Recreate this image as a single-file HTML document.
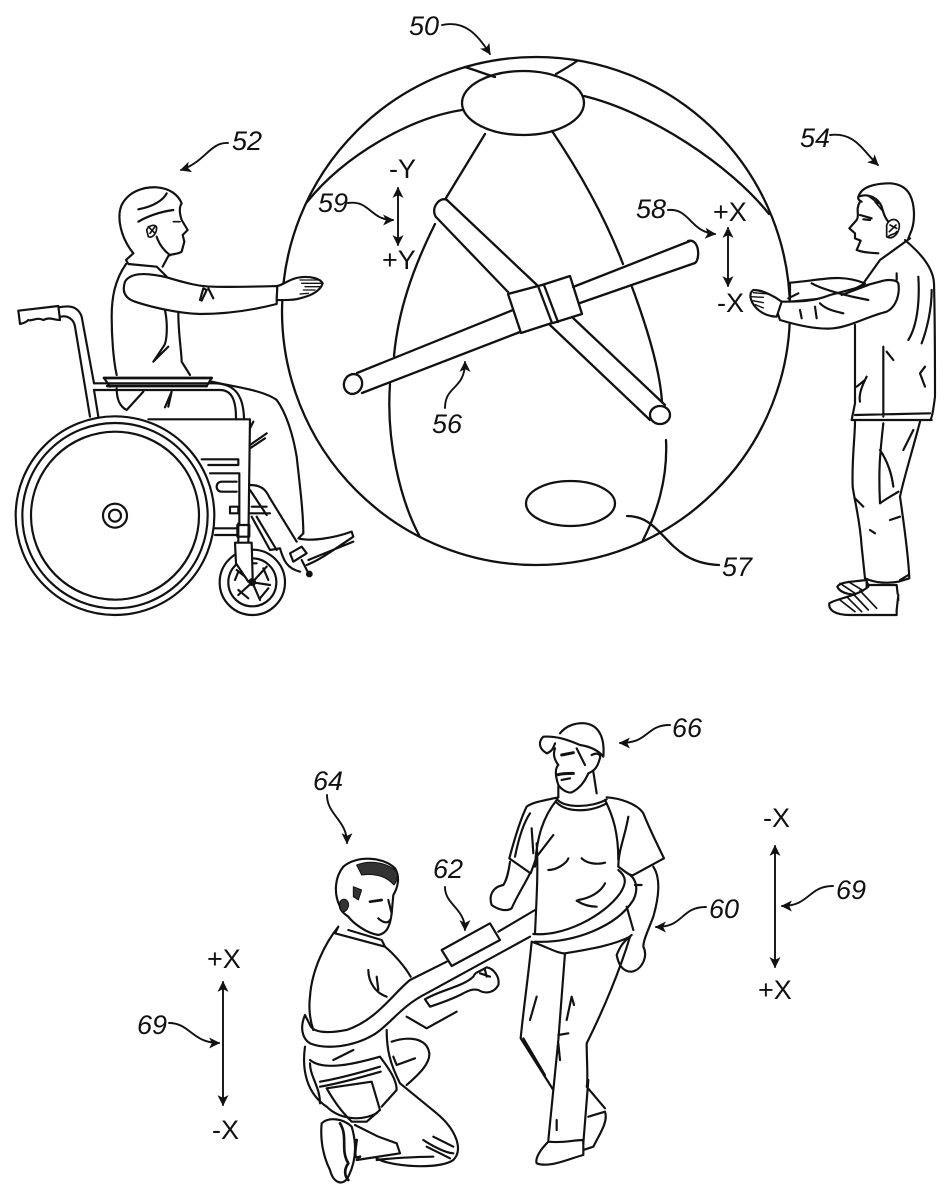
<!DOCTYPE html>
<html><head><meta charset="utf-8"><style>
html,body{margin:0;padding:0;background:#fff}
svg{display:block}
text{font-family:"Liberation Sans",sans-serif;font-size:27px;fill:#111}
.n{font-style:italic}
path,ellipse,circle,line{stroke-linecap:round;stroke-linejoin:round}
</style></head><body>
<svg width="950" height="1200" viewBox="0 0 950 1200" xmlns="http://www.w3.org/2000/svg">
<defs>
<marker id="a" viewBox="0 0 10 10" refX="9" refY="5" markerUnits="userSpaceOnUse" markerWidth="14" markerHeight="11" orient="auto-start-reverse"><path d="M0 0L10 5L0 10L2.5 5Z" fill="#111"/></marker>
</defs>
<rect width="950" height="1200" fill="#fff"/>

<!-- sphere -->
<g fill="none" stroke="#111" stroke-width="2.3">
<circle cx="536" cy="311" r="254"/>
<ellipse cx="523" cy="103" rx="61" ry="32"/>
<ellipse cx="570.5" cy="503.5" rx="44.5" ry="22.5"/>
<path d="M465 67C475 70 485 74 495 77M577 61C570 66 563 70 556 74"/>
<path d="M462 110C410 118 345 155 307 202"/>
<path d="M584 96C650 112 730 165 769 214"/>
<path d="M485 134L446 198M435 224C412 270 398 312 394 356M390 384C386 440 400 500 420 537"/>
<path d="M552 131C585 180 608 225 623 264M632 287C648 330 660 370 662 402M666 440C668 480 656 515 643 540"/>
<path d="M627 516C665 516 665 563 719 565"/>
<!-- bars -->
<path d="M357 373L513 310M362 393L520 332M573 287L690 241M580 303L695 263"/>
<path d="M688 241C700 238 700 260 695 263"/>
<ellipse cx="353" cy="384" rx="9" ry="10" transform="rotate(20 353 384)"/>
<path d="M447 200L538 286M436 217L508 292M550 325L650 420M572 317L665 405"/>
<path d="M447 200C440 196 430 208 436 217"/>
<ellipse cx="660" cy="415" rx="10" ry="9"/>
<path d="M508 294L538 286L552 323L521 333Z M542 285L570 276L582 314L553 323M538 286L542 285M544 285L558 322"/>
</g>

<!-- arrows and leaders -->
<g fill="none" stroke="#111" stroke-width="1.9">
<path d="M442 25C465 20 478 35 490 54" marker-end="url(#a)"/>
<path d="M228 143C210 142 205 162 181 170" marker-end="url(#a)"/>
<path d="M830 135C855 132 862 150 878 165" marker-end="url(#a)"/>
<path d="M348 203C370 200 370 220 393 220" marker-end="url(#a)"/>
<path d="M668 210C690 208 690 232 715 234" marker-end="url(#a)"/>
<path d="M445 408C445 385 465 390 465 362" marker-end="url(#a)"/>
<path d="M398 188L398 245" marker-start="url(#a)" marker-end="url(#a)"/>
<path d="M728 228L728 286" marker-start="url(#a)" marker-end="url(#a)"/>
<path d="M775 846L775 967" marker-start="url(#a)" marker-end="url(#a)"/>
<path d="M223 982L223 1105" marker-start="url(#a)" marker-end="url(#a)"/>
<path d="M833 886C808 886 810 906 782 906" marker-end="url(#a)"/>
<path d="M706 907C680 907 685 927 656 927" marker-end="url(#a)"/>
<path d="M169 1023C190 1023 192 1043 219 1043" marker-end="url(#a)"/>
<path d="M670 725C645 725 650 743 620 743" marker-end="url(#a)"/>
<path d="M327 795C327 815 347 820 347 843" marker-end="url(#a)"/>
<path d="M445 887C445 905 465 908 465 930" marker-end="url(#a)"/>
</g>

<!-- labels -->
<text class="n" x="409" y="35">50</text>
<text class="n" x="232" y="150">52</text>
<text class="n" x="800" y="147">54</text>
<text class="n" x="318" y="212">59</text>
<text class="n" x="636" y="218">58</text>
<text class="n" x="432" y="433">56</text>
<text class="n" x="722" y="576">57</text>
<text class="n" x="672" y="737">66</text>
<text class="n" x="313" y="790">64</text>
<text class="n" x="433" y="878">62</text>
<text class="n" x="709" y="918">60</text>
<text class="n" x="836" y="899">69</text>
<text class="n" x="137" y="1034">69</text>
<text x="389" y="178">-Y</text>
<text x="382" y="269">+Y</text>
<text x="713" y="221">+X</text>
<text x="717" y="312">-X</text>
<text x="763" y="827">-X</text>
<text x="758" y="999">+X</text>
<text x="207" y="968">+X</text>
<text x="212" y="1139">-X</text>

<!-- wheelchair person -->
<g transform="translate(0 170) scale(.33333)" fill="none" stroke="#111" stroke-width="6.5">
<path fill="#fff" d="M500 322C430 305 390 310 375 335C365 365 375 385 405 395C450 410 530 430 600 432C680 432 760 420 830 402L832 348C760 350 700 352 640 350C600 350 560 340 500 322Z"/>
<path fill="#fff" d="M832 348C850 345 870 325 900 322C930 318 960 325 968 340C960 365 930 378 900 385C880 392 850 390 830 390Z"/>
<path stroke-width="4" d="M900 330L955 330M905 340L965 340M915 350L960 350M910 360L945 360M900 372L925 370"/>
<path d="M400 250C360 200 350 140 365 105C385 65 430 50 470 52C510 55 535 75 545 100C535 115 540 135 545 150L563 180L548 195L553 215L545 245C530 255 515 250 505 258L488 290"/>
<path d="M400 250L378 270L385 282L470 290L500 320M415 118C460 110 490 90 500 70M415 155C440 140 480 125 520 120M470 200C478 225 495 245 510 255M378 282C345 330 335 380 335 440C335 500 340 570 350 615"/>
<path stroke-width="5" d="M440 180C445 165 470 160 470 175C468 195 455 205 445 200ZM445 170L465 190M450 190L465 170M520 155L540 155"/>
<path d="M495 420C505 470 500 520 490 530L460 575L505 530M535 430C535 490 545 550 545 575L570 615M600 390L610 355L620 360L605 392M625 355L640 385"/>
<path stroke-width="8" d="M312 624L635 624M322 648L620 648"/>
<path d="M312 624L330 650M635 624L620 648M350 655C350 690 360 710 380 720M380 720L430 665M495 712L515 665L505 710"/>
<path d="M635 635C700 650 790 660 830 690C860 730 880 800 890 860C900 950 910 1030 910 1090"/>
<path d="M55 422L175 408L180 450C160 450 150 440 130 450C110 440 95 455 85 450C75 460 65 460 60 462Z"/>
<path d="M178 412C210 405 235 410 245 440L282 640M182 440C205 435 222 450 225 470L270 740M295 740L282 660"/>
<path d="M282 640L640 640C700 640 730 670 732 745M282 660L660 660C695 660 708 690 708 745"/>
<circle cx="345" cy="1037" r="298"/><circle cx="345" cy="1037" r="278"/><circle cx="345" cy="1037" r="252"/>
<circle cx="345" cy="1037" r="36"/><circle cx="345" cy="1037" r="18"/>
<path d="M445 748L750 748L745 1120M715 1120L715 1060M605 868L715 868L715 885L625 885M630 910L718 910L718 1060M645 1075L710 1075M645 1095L710 1095M690 1010L715 1010L715 1030L690 1030Z"/>
<path d="M665 935L710 935M665 965L710 965M665 935C645 935 645 965 665 965"/>
<path d="M750 775L760 755M750 825L800 790M750 835L795 805"/>
<path d="M750 945C790 945 800 965 810 985L890 1115M755 1010L800 1010M750 1030L810 1030M750 960L800 1035M755 1040L810 1140L840 1135C850 1170 860 1195 900 1205M770 1040L830 1140"/>
<path d="M910 1090L895 1105C930 1115 1000 1105 1055 1085L1060 1100C1000 1140 960 1170 920 1185M925 1170L1060 1115M870 1150L905 1130L920 1150L880 1175ZM905 1170L928 1215"/>
<circle cx="928" cy="1212" r="7" fill="#111"/>
<circle cx="757" cy="1237" r="98" fill="#fff"/><circle cx="757" cy="1237" r="72"/><circle cx="757" cy="1237" r="8" fill="#111"/>
<path d="M757 1237L710 1200M757 1237L800 1190M757 1237L810 1245M757 1237L780 1290M757 1237L715 1275M730 1180L770 1180M790 1195L805 1230M805 1255L780 1285M745 1285L715 1260M705 1230L715 1205"/>
<path fill="#fff" d="M705 1118L755 1118L758 1225L745 1235L708 1180Z"/>
<path d="M712 1065L748 1065L748 1100L712 1100Z"/>
</g>

<!-- standing person right -->
<g transform="translate(740 170) scale(.33333)" fill="none" stroke="#111" stroke-width="6.5">
<path fill="#fff" d="M375 340C300 310 250 330 150 338L150 395L300 380Z"/>
<path fill="#fff" d="M475 340C480 370 470 410 440 425C380 440 330 470 280 475C230 480 170 465 120 450L110 420L125 395C180 395 220 395 270 375C330 360 400 340 430 332C450 328 470 330 475 340Z"/>
<path fill="#fff" d="M125 395C105 380 70 360 40 360C25 370 30 395 50 415C70 435 95 440 110 440Z"/>
<path stroke-width="4" d="M40 368L85 372M32 380L70 382M38 392L70 398M46 404L70 414"/>
<path d="M360 95C345 120 360 135 350 150L328 175L345 190L345 205L362 212L350 240C370 248 390 248 415 250M360 70C375 45 420 40 450 40C480 42 500 55 510 75C525 105 525 150 515 180L505 205"/>
<path d="M360 70C350 85 355 90 365 95M360 135L395 145M370 148L390 150M355 80C385 68 415 85 425 110C430 130 435 145 445 155"/>
<path stroke-width="5" d="M440 165C450 140 480 145 478 170C475 195 455 210 440 200ZM450 165L470 175M448 185L468 165M445 200C455 190 465 195 470 185M385 78L415 100M405 95L430 125"/>
<path d="M510 205L420 270L370 340M495 210L515 228C550 260 580 300 582 340C585 450 585 600 585 680C580 720 575 750 570 750M335 750L575 750M345 735L570 730M345 465L345 700L335 750M470 310L470 330M535 320C540 400 530 470 505 510M575 360C575 420 560 480 545 520M440 545L460 570M555 590L540 610L555 650M380 620C370 640 355 670 360 695M350 650L375 630M145 385L175 370M180 420L185 445M225 410L230 445M240 400C260 420 290 425 310 430M215 340C250 360 330 380 385 390M305 375L385 345M430 530C430 600 430 680 430 740"/>
<path d="M345 755C345 800 335 870 338 950C345 1000 360 1050 365 1130L375 1225C410 1240 440 1240 475 1235L508 1225C505 1150 490 1050 480 980C490 930 515 850 540 755M430 760C420 850 415 900 420 1000M420 1000C440 985 460 975 475 965M420 840C440 870 455 910 460 950M345 985L370 1010M390 1080L405 1090M520 780L490 840M480 1230L505 1215M450 1050L480 1040"/>
<path d="M375 1225L385 1245L470 1245L475 1290"/>
<path fill="#fff" d="M380 1230C340 1235 300 1235 292 1250C300 1270 340 1280 380 1270Z"/>
<path fill="#fff" d="M385 1250C350 1280 290 1285 268 1300C265 1320 285 1335 330 1335L470 1335L470 1320L475 1275"/>
<path stroke-width="5" d="M300 1290L345 1325M320 1280L365 1325M340 1272L385 1320M360 1262L410 1315M300 1240L345 1270M325 1235L370 1262"/>
</g>

<!-- bottom figures -->
<g transform="translate(290 710) scale(.33333)" fill="none" stroke="#111" stroke-width="6.5">
<!-- standing man -->
<path d="M810 70C830 45 860 38 885 40C925 45 945 80 940 140C920 115 890 108 870 105C830 88 800 78 760 80C745 95 745 115 770 130C785 125 790 115 795 100"/>
<path d="M795 115C790 130 790 145 805 165C795 175 795 195 805 225C815 240 835 250 845 247C860 240 880 225 895 190C905 185 920 180 928 150C935 135 925 125 905 135M910 185L920 250M805 230L805 262"/>
<path stroke-width="9" d="M815 135L850 128M800 195C815 190 835 190 850 190"/>
<path d="M815 210L840 205M860 115L885 165"/>
<path d="M800 265C815 295 905 295 950 268M800 278C830 308 900 308 950 280"/>
<path d="M805 262C770 270 730 275 710 290C690 330 670 400 658 445L722 490L740 440M740 400C745 480 740 560 735 670M800 270C760 320 740 380 735 470M720 310C700 340 685 390 675 440M725 355L730 430M790 375L740 440M775 480C800 480 830 460 835 445M875 445C890 460 920 465 945 458"/>
<path d="M950 262C990 265 1040 280 1060 310C1080 360 1105 410 1122 445L1030 495C1020 500 1000 480 985 470M945 270C970 320 985 370 985 450M1015 320C1005 380 985 420 985 470M865 570C895 565 930 550 945 520M860 572C880 585 900 590 920 590"/>
<path d="M735 695C850 700 980 650 1030 570C1045 540 1040 510 1020 495M730 672C820 680 940 620 990 550C1010 520 1010 500 985 480M1010 590L1030 660"/>
<path d="M660 455C655 490 650 510 640 525C610 530 595 555 605 585C625 600 650 605 665 595C680 560 700 530 720 490"/>
<path d="M1090 470C1110 500 1110 550 1090 620C1075 660 1060 690 1060 710C1075 740 1055 780 1025 785C995 785 985 760 980 735C990 710 1000 695 1025 675M1035 525L1055 525"/>
<path d="M725 695C715 800 700 900 692 985L790 1140M825 730L805 990L790 1140L775 1290M1020 680C990 780 940 900 890 1000C890 1050 895 1110 890 1130L945 1195M895 1110L880 1300M725 695C770 710 800 730 825 730C880 720 960 710 1020 680M740 860L720 930M830 930L845 860L852 885M805 975L835 970M700 985L765 1095M805 1000L810 1050M800 1230L800 1260"/>
<path d="M775 1295C750 1320 735 1345 740 1360C780 1375 840 1345 880 1335L880 1290C850 1290 820 1300 775 1295ZM895 1220L945 1205C955 1235 930 1270 910 1310L880 1320"/>
<!-- kneeling man -->
<path d="M150 590C130 550 135 500 160 470C200 435 280 440 315 475C330 500 325 530 310 555L305 610C300 650 290 670 265 675C230 670 190 640 175 620C160 610 150 600 150 590Z"/>
<path fill="#333" stroke-width="3" d="M200 465C235 450 290 455 320 485C325 500 320 515 312 525C285 495 250 490 215 495Z"/>
<path fill="#333" stroke-width="3" d="M150 575C160 560 180 570 175 590C170 610 150 610 150 590ZM190 530L215 540L205 570L190 560Z"/>
<path stroke-width="8" d="M240 575L275 570"/>
<path d="M265 625C280 640 295 640 300 630M295 570L305 610"/>
<path d="M145 650C105 700 65 780 60 860C55 900 60 930 70 960M145 650L135 670L285 710L275 690L175 660M285 710C310 730 345 770 362 800M235 780C235 820 260 850 290 860M260 800L265 840"/>
<path d="M405 868C450 840 520 830 550 800C555 785 570 785 590 772C610 775 630 800 625 825C615 845 590 855 565 840C545 835 530 845 510 855C480 870 450 880 420 890ZM350 920L410 955L500 905M570 790L600 800M585 780L590 800"/>
<path fill="#fff" d="M455 720L600 640L630 690L485 768Z"/>
<path d="M735 600L625 665M470 755L360 810C310 850 260 930 170 960C120 970 70 970 60 945L45 915C30 950 35 985 60 1000C110 1020 190 1010 250 975C300 945 330 890 410 850L720 680"/>
<path d="M45 1010C35 1080 50 1150 110 1190C140 1220 200 1240 260 1210M290 960C290 1020 300 1060 330 1120L440 1210C500 1260 520 1320 490 1350C450 1380 300 1370 260 1345M305 995C350 980 410 980 418 1030C420 1060 390 1090 350 1125"/>
<path d="M60 1050C100 1085 200 1060 270 1040C300 1080 320 1110 320 1140L275 1190M90 1115C150 1105 220 1085 270 1070M90 1130C150 1120 220 1100 272 1085M130 1050L190 1020M110 1135L245 1115L270 1200L230 1235L185 1235C150 1200 130 1170 110 1135ZM60 1060C60 1100 90 1130 90 1180M310 1040L320 1065L375 1045"/>
<path d="M95 1240C115 1220 160 1225 185 1250C200 1300 200 1350 175 1400C160 1430 130 1420 120 1380C100 1340 90 1290 95 1240Z"/>
<path stroke-width="8" d="M150 1240C175 1280 150 1320 175 1360C160 1380 165 1400 175 1410M200 1290C195 1330 190 1350 210 1340"/>
<path d="M195 1245L265 1280L320 1300L330 1330L200 1350M260 1350C300 1345 380 1340 430 1340M400 1290C430 1310 470 1330 490 1330M410 1310L480 1345M430 1280L490 1310"/>
</g>
</svg>
</body></html>
